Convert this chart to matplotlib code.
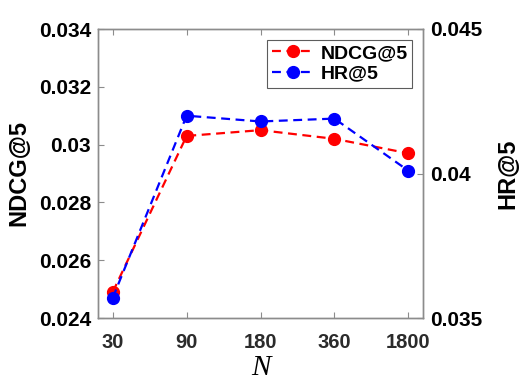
import matplotlib
matplotlib.use("Agg")
import matplotlib.pyplot as plt

# data
n_labels = ["30", "90", "180", "360", "1800"]
ndcg = [0.0249, 0.0303, 0.0305, 0.0302, 0.0297]
hr = [0.0357, 0.0420, 0.0418, 0.0419, 0.0401]

left_ticks = [0.024, 0.026, 0.028, 0.030, 0.032, 0.034]
left_labels = ["0.024", "0.026", "0.028", "0.03", "0.032", "0.034"]
right_ticks = [0.035, 0.040, 0.045]
right_labels = ["0.035", "0.04", "0.045"]

plt.rcParams["font.family"] = ["Liberation Sans", "DejaVu Sans"]

W, H = 523, 392
fig = plt.figure(figsize=(W / 100, H / 100), dpi=100)
ax = fig.add_axes([98 / W, 1 - 318 / H, (423 - 98) / W, (318 - 29) / H])
ax2 = ax.twinx()

x = list(range(len(n_labels)))
l1, = ax.plot(x, ndcg, "--o", color="red", lw=1.6, ms=8.5, dashes=(4, 2.5), label="NDCG@5")
l2, = ax2.plot(x, hr, "--o", color="blue", lw=1.6, ms=8.5, dashes=(4, 2.5), label="HR@5")

ax.set_xlim(-0.2, 4.2)
ax.set_ylim(0.024, 0.034)
ax2.set_ylim(0.035, 0.045)
ax.set_xticks(x)
ax.set_xticklabels(n_labels, fontsize=14.5, fontweight="bold", color="#2b2b2b")
ax.set_yticks(left_ticks)
ax.set_yticklabels(left_labels, fontsize=15, fontweight="bold")
ax2.set_yticks(right_ticks)
ax2.set_yticklabels(right_labels, fontsize=15, fontweight="bold")

for a in (ax, ax2):
    for s in a.spines.values():
        s.set_color("#8c8c8c")
        s.set_linewidth(1.0)
    a.tick_params(direction="in", length=4, color="#8c8c8c", width=0.8)
ax.tick_params(axis="x", top=True, pad=11)
ax.tick_params(axis="y", right=False, pad=5)
ax2.tick_params(axis="y", pad=5)

ax.set_ylabel("NDCG@5", fontsize=17, fontweight="bold", labelpad=6)
ax2.set_ylabel("HR@5", fontsize=17, fontweight="bold", labelpad=10)
ax.set_xlabel("N", fontsize=21, family="Liberation Serif", style="italic",
              fontweight="normal", labelpad=2)

leg = ax.legend(handles=[l1, l2], loc="upper right", frameon=True,
                fancybox=False, borderpad=0.25, handlelength=2.2, handletextpad=0.3,
                labelspacing=0.15, borderaxespad=0.55,
                prop={"weight": "bold", "size": 14})
leg.get_frame().set_edgecolor("#333333")
leg.get_frame().set_linewidth(0.8)

fig.savefig("out.png", dpi=100)
